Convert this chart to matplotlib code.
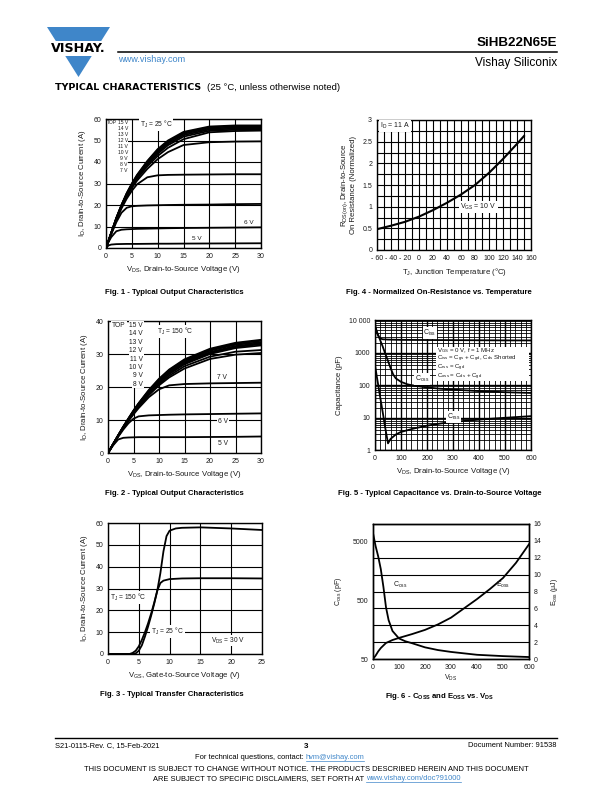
import matplotlib
matplotlib.use('Agg')
import matplotlib.pyplot as plt
from matplotlib.patches import Polygon, Rectangle
from matplotlib.ticker import FixedLocator, NullFormatter

plt.rcParams['font.family'] = ['Liberation Sans', 'DejaVu Sans']
plt.rcParams['mathtext.fontset'] = 'custom'
plt.rcParams['mathtext.rm'] = 'Liberation Sans'
plt.rcParams['mathtext.it'] = 'Liberation Sans:italic'
plt.rcParams['mathtext.bf'] = 'Liberation Sans:bold'
plt.rcParams['mathtext.default'] = 'regular'

# ---------------- Fig. 1 data (TJ = 25 C) ----------------
vds_f1 = [0, 0.5, 1, 2, 3, 4, 5, 6, 8, 10, 12, 15, 20, 25, 30]
id_f1_15v = [0, 3.5, 7, 14, 20, 25.5, 30, 34, 40.5, 46, 50, 54, 56.5, 57, 57]
id_f1_14v = [0, 3.5, 7, 14, 20, 25.3, 29.8, 33.7, 40.2, 45.6, 49.6, 53.6, 56.1, 56.5, 56.6]
id_f1_13v = [0, 3.5, 7, 13.9, 19.9, 25.1, 29.6, 33.4, 39.8, 45.1, 49.1, 53.1, 55.6, 56, 56.1]
id_f1_12v = [0, 3.5, 6.9, 13.8, 19.7, 24.9, 29.3, 33.1, 39.3, 44.5, 48.5, 52.5, 55.1, 55.5, 55.6]
id_f1_11v = [0, 3.4, 6.9, 13.7, 19.5, 24.6, 29, 32.7, 38.8, 43.8, 47.8, 51.8, 54.5, 55, 55.1]
id_f1_10v = [0, 3.4, 6.8, 13.5, 19.3, 24.3, 28.6, 32.2, 38, 42.8, 46.6, 50.6, 53.8, 54.4, 54.6]
id_f1_9v = [0, 3.4, 6.8, 13.3, 19, 23.8, 27.9, 31.3, 36.8, 41.3, 44.6, 47.9, 49.2, 49.5, 49.6]
id_f1_8v = [0, 3.3, 6.6, 13, 18.4, 22.9, 26.6, 29.6, 32.9, 33.8, 34, 34.1, 34.2, 34.3, 34.3]
id_f1_7v = [0, 3.2, 6.3, 12, 16.4, 18.7, 19.4, 19.6, 19.8, 19.9, 20, 20.1, 20.2, 20.4, 20.5]
id_f1_6v = [0, 2.8, 5, 7.8, 8.5, 8.7, 8.8, 8.9, 9, 9.1, 9.2, 9.3, 9.4, 9.5, 9.6]
id_f1_5v = [0, 1.2, 1.6, 1.8, 1.85, 1.9, 1.9, 1.9, 1.95, 2, 2, 2.05, 2.1, 2.15, 2.2]
legend_f1 = ['15 V', '14 V', '13 V', '12 V', '11 V', '10 V', '9 V', '8 V', '7 V']

# ---------------- Fig. 2 data (TJ = 150 C) ----------------
vds_f2 = [0, 1, 2, 3, 4, 5, 6, 8, 10, 12, 15, 20, 25, 30]
id_f2_15v = [0, 2.7, 5.4, 8, 10.5, 12.9, 15.1, 19.1, 22.5, 25.3, 28.4, 31.6, 33.4, 34.3]
id_f2_14v = [0, 2.7, 5.4, 8, 10.4, 12.8, 15, 18.9, 22.3, 25.1, 28.1, 31.3, 33.1, 34]
id_f2_13v = [0, 2.7, 5.3, 7.9, 10.3, 12.7, 14.9, 18.7, 22.1, 24.8, 27.8, 31, 32.8, 33.6]
id_f2_12v = [0, 2.7, 5.3, 7.9, 10.3, 12.6, 14.7, 18.5, 21.8, 24.5, 27.5, 30.6, 32.4, 33.3]
id_f2_11v = [0, 2.7, 5.3, 7.8, 10.2, 12.5, 14.6, 18.3, 21.6, 24.2, 27.2, 30.3, 32.1, 33]
id_f2_10v = [0, 2.7, 5.3, 7.8, 10.1, 12.4, 14.4, 18.1, 21.3, 23.9, 26.9, 30, 31.8, 32.6]
id_f2_9v = [0, 2.6, 5.2, 7.7, 10, 12.2, 14.2, 17.8, 20.9, 23.4, 26.3, 29.2, 30.7, 31.2]
id_f2_8v = [0, 2.6, 5.2, 7.6, 9.9, 12, 14, 17.5, 20.5, 22.9, 25.6, 28.5, 29.8, 30.3]
id_f2_7v = [0, 2.6, 5.1, 7.5, 9.7, 11.7, 13.6, 16.9, 19.3, 20.5, 20.9, 21.1, 21.2, 21.3]
id_f2_6v = [0, 2.5, 4.9, 7.1, 9, 10.4, 11.1, 11.4, 11.5, 11.6, 11.7, 11.8, 11.9, 12]
id_f2_5v = [0, 2.3, 4.1, 4.6, 4.7, 4.75, 4.8, 4.8, 4.8, 4.8, 4.8, 4.85, 4.9, 5]
legend_f2 = ['15 V', '14 V', '13 V', '12 V', '11 V', '10 V', '9 V', '8 V']

# ---------------- Fig. 3 data (transfer) ----------------
vgs_f3_25 = [0, 4, 4.5, 5, 5.5, 6, 6.5, 7, 7.5, 8, 8.5, 9, 9.5, 10, 11, 12, 15, 20, 25]
id_f3_25 = [0, 0, 0.3, 1.5, 4, 8, 12.5, 17.5, 23, 29, 37, 47, 54, 56.5, 57.5, 57.8, 58, 57.5, 56.8]
vgs_f3_150 = [0, 3.5, 4, 4.5, 5, 5.5, 6, 6.5, 7, 7.5, 8, 8.5, 9, 10, 12, 15, 20, 25]
id_f3_150 = [0, 0, 0.5, 1.5, 3.5, 6.5, 10, 14, 18.5, 23.5, 29, 32.5, 33.6, 34.3, 34.6, 34.7, 34.7, 34.6]

# ---------------- Fig. 4 data (normalized RDS(on)) ----------------
tj_f4 = [-60, -40, -20, 0, 20, 40, 60, 80, 100, 120, 140, 150]
rds_f4 = [0.48, 0.56, 0.65, 0.77, 0.92, 1.09, 1.28, 1.5, 1.78, 2.1, 2.45, 2.63]
xtick_f4 = [-60, -40, -20, 0, 20, 40, 60, 80, 100, 120, 140, 160]
xticklabels_f4 = ['- 60', '- 40', '- 20', '0', '20', '40', '60', '80', '100', '120', '140', '160']

# ---------------- Fig. 5 data (capacitance) ----------------
vds_ciss = [0, 5, 10, 15, 20, 30, 50, 100, 200, 300, 400, 500, 600]
ciss = [7000, 5000, 3600, 3000, 2700, 2550, 2500, 2450, 2420, 2400, 2380, 2360, 2350]
vds_coss = [0, 10, 20, 30, 40, 50, 60, 70, 80, 100, 125, 150, 200, 250, 300, 400, 500, 600]
coss = [6000, 3800, 2400, 1500, 900, 550, 330, 210, 160, 125, 105, 95, 84, 77, 72, 65, 60, 57]
vds_crss = [0, 10, 20, 30, 40, 50, 60, 80, 100, 150, 200, 250, 300, 400, 500, 600]
crss = [400, 130, 42, 14, 4.5, 1.6, 2.2, 3, 3.6, 4.6, 5.6, 6.5, 7.3, 8.6, 9.8, 11]
notes_f5 = ['$V_{GS}$ = 0 V, f = 1 MHz',
            '$C_{iss}$ = $C_{gs}$ + $C_{gd}$, $C_{ds}$ Shorted',
            '$C_{rss}$ = $C_{gd}$',
            '$C_{oss}$ = $C_{ds}$ + $C_{gd}$']

# ---------------- Fig. 6 data (Coss, Eoss) ----------------
vds_f6_coss = [0, 10, 20, 30, 40, 50, 60, 75, 100, 125, 150, 200, 250, 300, 400, 500, 600]
coss_f6 = [7000, 4200, 2800, 1700, 850, 380, 230, 150, 112, 100, 93, 79, 71, 66, 59, 56, 54]
vds_f6_eoss = [0, 10, 20, 30, 50, 75, 100, 150, 200, 250, 300, 350, 400, 450, 500, 550, 600]
eoss_f6 = [0, 0.4, 0.9, 1.3, 1.9, 2.25, 2.5, 2.95, 3.45, 4.1, 4.9, 6.0, 7.1, 8.3, 9.6, 11.4, 13.6]

# =====================================================================
W, H = 612, 792
fig = plt.figure(figsize=(W / 100, H / 100), dpi=100)

TICK_FS = 5.0
LABEL_FS = 5.6
TXT_FS = 4.6
LW = 1.3
GRID_LW = 0.8
INK = '#1a1a1a'


def px_axes(x0, y0, x1, y1):
    return fig.add_axes([x0 / W, 1 - y1 / H, (x1 - x0) / W, (y1 - y0) / H])


def style(ax):
    for s in ax.spines.values():
        s.set_linewidth(1.0)
        s.set_color('black')
        s.set_zorder(5)
    ax.tick_params(which='both', length=0, labelsize=TICK_FS, pad=3.5, colors=INK)
    ax.set_axisbelow(True)


def box_text(ax, x, y, s, **kw):
    kw.setdefault('fontsize', TXT_FS)
    kw.setdefault('color', INK)
    return ax.text(x, y, s, bbox=dict(facecolor='white', edgecolor='none', pad=0.6), zorder=6, **kw)


# ---------------- Fig. 1 ----------------
ax1 = px_axes(106, 119, 261, 248)
style(ax1)
for ys in [id_f1_15v, id_f1_14v, id_f1_13v, id_f1_12v, id_f1_11v, id_f1_10v,
           id_f1_9v, id_f1_8v, id_f1_7v, id_f1_6v, id_f1_5v]:
    ax1.plot(vds_f1, ys, color='black', lw=LW, zorder=3)
ax1.set_xlim(0, 30)
ax1.set_ylim(0, 60)
ax1.set_xticks(range(0, 31, 5))
ax1.set_yticks(range(0, 61, 10))
ax1.grid(True, color='black', lw=GRID_LW)
ax1.set_xlabel(r'$V_{DS}$, Drain-to-Source Voltage (V)', fontsize=LABEL_FS, color=INK, labelpad=3)
ax1.set_ylabel(r'$I_{D}$, Drain-to-Source Current (A)', fontsize=LABEL_FS, color=INK, labelpad=4)
ax1.add_patch(Rectangle((0.15, 35), 4.2, 24.8, facecolor='white', edgecolor='none', zorder=5))
ax1.text(0.2, 58.4, 'TOP', fontsize=3.6, ha='left', va='center', color=INK, zorder=6)
for i, lab in enumerate(legend_f1):
    ax1.text(4.25, 58.4 - i * 2.8, lab, fontsize=3.6, ha='right', va='center', color=INK, zorder=6)
box_text(ax1, 6.6, 57.3, r'$T_{J}$ = 25 °C', fontsize=4.8, ha='left', va='center')
box_text(ax1, 27.6, 11.7, '6 V', ha='center', va='center')
box_text(ax1, 17.5, 4.4, '5 V', ha='center', va='center')

# ---------------- Fig. 4 ----------------
ax4 = px_axes(377, 120, 531, 250)
style(ax4)
ax4.plot(tj_f4, rds_f4, color='black', lw=LW + 0.2, zorder=3)
ax4.set_xlim(-60, 160)
ax4.set_ylim(0, 3)
ax4.set_xticks(xtick_f4)
ax4.set_xticklabels(xticklabels_f4)
ax4.set_yticks([0, 0.5, 1, 1.5, 2, 2.5, 3])
ax4.set_yticklabels(['0', '0.5', '1', '1.5', '2', '2.5', '3'])
ax4.xaxis.set_minor_locator(FixedLocator(list(range(-50, 160, 20))))
ax4.yaxis.set_minor_locator(FixedLocator([0.25, 0.75, 1.25, 1.75, 2.25, 2.75]))
ax4.grid(True, which='both', color='black', lw=GRID_LW)
ax4.set_xlabel(r'$T_{J}$, Junction Temperature (°C)', fontsize=LABEL_FS, color=INK, labelpad=3)
ax4.set_ylabel('$R_{DS(on)}$, Drain-to-Source\nOn Resistance (Normalized)', fontsize=LABEL_FS,
               color=INK, labelpad=4, linespacing=1.0)
box_text(ax4, -56, 2.86, r'$I_{D}$ = 11 A', fontsize=5.0, ha='left', va='center')
box_text(ax4, 59, 1.0, r'$V_{GS}$ = 10 V', fontsize=5.0, ha='left', va='center')

# ---------------- Fig. 2 ----------------
ax2 = px_axes(108, 321, 261, 453)
style(ax2)
for ys in [id_f2_15v, id_f2_14v, id_f2_13v, id_f2_12v, id_f2_11v, id_f2_10v,
           id_f2_9v, id_f2_8v, id_f2_7v, id_f2_6v, id_f2_5v]:
    ax2.plot(vds_f2, ys, color='black', lw=LW, zorder=3)
ax2.set_xlim(0, 30)
ax2.set_ylim(0, 40)
ax2.set_xticks(range(0, 31, 5))
ax2.set_yticks(range(0, 41, 10))
ax2.grid(True, color='black', lw=GRID_LW)
ax2.set_xlabel(r'$V_{DS}$, Drain-to-Source Voltage (V)', fontsize=LABEL_FS, color=INK, labelpad=3)
ax2.set_ylabel(r'$I_{D}$, Drain-to-Source Current (A)', fontsize=LABEL_FS, color=INK, labelpad=4)
box_text(ax2, 0.8, 38.6, 'TOP', fontsize=4.8, ha='left', va='center')
for i, lab in enumerate(legend_f2):
    box_text(ax2, 6.85, 38.6 - i * 2.53, lab, fontsize=4.8, ha='right', va='center')
box_text(ax2, 9.6, 36.8, r'$T_{J}$ = 150 °C', fontsize=4.8, ha='left', va='center')
box_text(ax2, 22.4, 22.8, '7 V', fontsize=4.8, ha='center', va='center')
box_text(ax2, 22.6, 9.6, '6 V', fontsize=4.8, ha='center', va='center')
box_text(ax2, 22.6, 3.0, '5 V', fontsize=4.8, ha='center', va='center')

# ---------------- Fig. 5 ----------------
ax5 = px_axes(375, 320, 531, 450)
style(ax5)
ax5.set_yscale('log')
ax5.plot(vds_ciss, ciss, color='black', lw=LW, zorder=3)
ax5.plot(vds_coss, coss, color='black', lw=LW, zorder=3)
ax5.plot(vds_crss, crss, color='black', lw=LW, zorder=3)
ax5.set_xlim(0, 600)
ax5.set_ylim(1, 10000)
ax5.set_xticks(range(0, 601, 100))
ax5.xaxis.set_minor_locator(FixedLocator([v for v in range(20, 600, 20) if v % 100]))
ax5.set_yticks([1, 10, 100, 1000, 10000])
ax5.set_yticklabels(['1', '10', '100', '1000', '10 000'])
ax5.yaxis.set_minor_locator(FixedLocator([m * 10 ** e for e in range(0, 4) for m in range(2, 10)]))
ax5.yaxis.set_minor_formatter(NullFormatter())
ax5.grid(True, which='major', color='black', lw=1.0)
ax5.grid(True, which='minor', color='black', lw=0.6)
ax5.set_xlabel(r'$V_{DS}$, Drain-to-Source Voltage (V)', fontsize=LABEL_FS, color=INK, labelpad=3)
ax5.set_ylabel('Capacitance (pF)', fontsize=LABEL_FS, color=INK, labelpad=4)
box_text(ax5, 186, 4070, r'$C_{iss}$', fontsize=5.0, ha='left', va='center')
box_text(ax5, 154, 150, r'$C_{oss}$', fontsize=5.0, ha='left', va='center')
box_text(ax5, 276, 10.6, r'$C_{rss}$', fontsize=5.0, ha='left', va='center')
ax5.add_patch(Rectangle((0.39, 0.53), 0.6, 0.265, transform=ax5.transAxes,
                        facecolor='white', edgecolor='none', zorder=5))
for i, line in enumerate(notes_f5):
    ax5.text(0.40, 0.765 - i * 0.068, line, transform=ax5.transAxes, fontsize=4.4, color=INK,
             ha='left', va='center', zorder=6)

# ---------------- Fig. 3 ----------------
ax3 = px_axes(108, 523, 262, 654)
style(ax3)
ax3.plot(vgs_f3_25, id_f3_25, color='black', lw=LW, zorder=3)
ax3.plot(vgs_f3_150, id_f3_150, color='black', lw=LW, zorder=3)
ax3.set_xlim(0, 25)
ax3.set_ylim(0, 60)
ax3.set_xticks(range(0, 26, 5))
ax3.set_yticks(range(0, 61, 10))
ax3.grid(True, color='black', lw=GRID_LW)
ax3.set_xlabel(r'$V_{GS}$, Gate-to-Source Voltage (V)', fontsize=LABEL_FS, color=INK, labelpad=3)
ax3.set_ylabel(r'$I_{D}$, Drain-to-Source Current (A)', fontsize=LABEL_FS, color=INK, labelpad=4)
box_text(ax3, 0.4, 26, r'$T_{J}$ = 150 °C', fontsize=4.8, ha='left', va='center')
box_text(ax3, 7.0, 10.3, r'$T_{J}$ = 25 °C', fontsize=4.8, ha='left', va='center')
box_text(ax3, 16.8, 6.2, r'$V_{DS}$ = 30 V', fontsize=4.8, ha='left', va='center')

# ---------------- Fig. 6 ----------------
ax6 = px_axes(373, 524, 529, 659)
ax6.set_yscale('log')
ax6.plot(vds_f6_coss, coss_f6, color='black', lw=LW, zorder=3)
ax6.set_xlim(0, 600)
ax6.set_ylim(50, 10000)
ax6.set_yticks([50, 500, 5000])
ax6.set_yticklabels(['50', '500', '5000'])
ax6.yaxis.set_minor_locator(FixedLocator([]))
ax6.set_xticks(range(0, 601, 100))
ax6.tick_params(which='both', length=0, labelsize=TICK_FS, pad=3.5, colors=INK)
ax6.set_xlabel(r'$V_{DS}$', fontsize=LABEL_FS - 0.6, color=INK, labelpad=1.5)
ax6.set_ylabel(r'$C_{oss}$ (pF)', fontsize=LABEL_FS - 0.6, color=INK, labelpad=6)
ax6r = ax6.twinx()
ax6r.plot(vds_f6_eoss, eoss_f6, color='black', lw=LW, zorder=3)
ax6r.set_ylim(0, 16)
ax6r.set_yticks(range(0, 17, 2))
ax6r.set_xticks(range(0, 601, 100))
ax6r.xaxis.set_minor_locator(FixedLocator(list(range(50, 600, 100))))
ax6r.grid(True, which='both', color='black', lw=GRID_LW)
ax6r.set_axisbelow(True)
ax6r.tick_params(which='both', length=0, labelsize=TICK_FS, pad=3.5, colors=INK)
ax6r.set_ylabel(r'$E_{oss}$ (μJ)', fontsize=LABEL_FS - 0.6, color=INK, labelpad=5)
for s in list(ax6.spines.values()) + list(ax6r.spines.values()):
    s.set_linewidth(1.0)
    s.set_color('black')
ax6r.text(0.13, 0.55, r'$C_{oss}$', transform=ax6r.transAxes, fontsize=5.0, color=INK, ha='left', va='center')
ax6r.text(0.79, 0.55, r'$E_{oss}$', transform=ax6r.transAxes, fontsize=5.0, color=INK, ha='left', va='center')

# ---------------- Page overlay: header, captions, footer ----------------
ov = fig.add_axes([0, 0, 1, 1], zorder=-5)
ov.set_xlim(0, W)
ov.set_ylim(H, 0)
ov.axis('off')

BLUE = '#3f86c9'
# logo
ov.add_patch(Polygon([[47, 27], [110, 27], [78.5, 77]], closed=True, facecolor=BLUE, edgecolor='none'))
ov.text(78.5, 48.5, 'VISHAY.', fontsize=9.2, fontweight='bold', ha='center', va='center', color='black',
        family=['DejaVu Sans'], bbox=dict(facecolor='white', edgecolor='none', pad=0.4))
ov.plot([118, 557], [52, 52], color='black', lw=1.1)
ov.text(557, 46, 'SiHB22N65E', fontsize=9.6, fontweight='bold', ha='right', va='baseline', color='black')
ov.text(557, 66, 'Vishay Siliconix', fontsize=8.6, ha='right', va='baseline', color='black')
ov.text(118, 62, 'www.vishay.com', fontsize=6.6, ha='left', va='baseline', color=BLUE)
ov.text(55, 90, 'TYPICAL CHARACTERISTICS', fontsize=6.8, fontweight='heavy', ha='left', va='baseline',
        color='black', family=['DejaVu Sans'])
ov.text(207, 90, '(25 °C, unless otherwise noted)', fontsize=6.8, ha='left', va='baseline', color='black')

CAP_FS = 5.6
ov.text(174, 294, 'Fig. 1 - Typical Output Characteristics', fontsize=CAP_FS, fontweight='bold',
        ha='center', va='baseline')
ov.text(439, 294, 'Fig. 4 - Normalized On-Resistance vs. Temperature', fontsize=CAP_FS, fontweight='bold',
        ha='center', va='baseline')
ov.text(174, 495, 'Fig. 2 - Typical Output Characteristics', fontsize=CAP_FS, fontweight='bold',
        ha='center', va='baseline')
ov.text(440, 495, 'Fig. 5 - Typical Capacitance vs. Drain-to-Source Voltage', fontsize=CAP_FS,
        fontweight='bold', ha='center', va='baseline')
ov.text(172, 696, 'Fig. 3 - Typical Transfer Characteristics', fontsize=CAP_FS, fontweight='bold',
        ha='center', va='baseline')
ov.text(440, 698, r'Fig. 6 - $\mathbf{C_{OSS}}$ and $\mathbf{E_{OSS}}$ vs. $\mathbf{V_{DS}}$', fontsize=CAP_FS,
        fontweight='bold', ha='center', va='baseline')

# footer
FT = 5.4
ov.plot([55, 557], [738, 738], color='black', lw=1.0)
ov.text(55, 747, 'S21-0115-Rev. C, 15-Feb-2021', fontsize=FT, ha='left', va='baseline')
ov.text(306, 748, '3', fontsize=FT + 0.4, fontweight='bold', ha='center', va='baseline')
ov.text(557, 747, 'Document Number: 91538', fontsize=FT, ha='right', va='baseline')
ov.text(306, 759, 'For technical questions, contact: ', fontsize=FT, ha='right', va='baseline')
ov.text(306, 759, 'hvm@vishay.com', fontsize=FT, ha='left', va='baseline', color=BLUE)
ov.plot([306, 364], [760.5, 760.5], color=BLUE, lw=0.5)
ov.text(306, 771, 'THIS DOCUMENT IS SUBJECT TO CHANGE WITHOUT NOTICE. THE PRODUCTS DESCRIBED HEREIN AND THIS DOCUMENT',
        fontsize=FT, ha='center', va='baseline')
ov.text(366, 780, 'ARE SUBJECT TO SPECIFIC DISCLAIMERS, SET FORTH AT ', fontsize=FT, ha='right', va='baseline')
ov.text(366, 780, 'www.vishay.com/doc?91000', fontsize=FT, ha='left', va='baseline', color=BLUE)
ov.plot([366, 461], [781.5, 781.5], color=BLUE, lw=0.5)

fig.savefig('out.png', dpi=100)
